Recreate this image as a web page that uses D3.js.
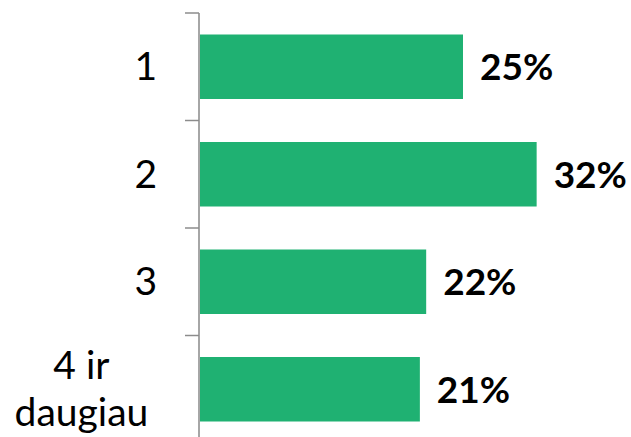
<!DOCTYPE html>
<html>
<head>
<meta charset="utf-8">
<script src="https://cdn.jsdelivr.net/npm/d3@7"></script>
<style>
  body { margin: 0; background: #fff; }
  svg { display: block; }
</style>
</head>
<body>
<svg id="chart"></svg>
<script>
// categories and values (percent)
var categories = ["1", "2", "3", "4 ir daugiau"];
var catLines = [["1"], ["2"], ["3"], ["4 ir", "daugiau"]];
var values = [25, 32, 21.5, 20.9];
var valueLabels = ["25%", "32%", "22%", "21%"];

var width = 631,
    height = 437;

var svg = d3.select("#chart")
  .attr("width", width)
  .attr("height", height);

// scales
var x = d3.scaleLinear()
  .domain([0, 35])
  .range([200, 200 + 35 * 10.52]);

var y = d3.scaleBand()
  .domain(categories)
  .range([13, 443])
  .paddingInner(0.4)
  .paddingOuter(0.2);

var gap = (y.step() - y.bandwidth()) / 2;

// bars
svg.selectAll(".bar")
  .data(values)
  .enter().append("rect")
  .attr("class", "bar")
  .attr("x", x(0))
  .attr("y", function(d, i) { return y(categories[i]); })
  .attr("width", function(d) { return x(d) - x(0); })
  .attr("height", y.bandwidth())
  .attr("fill", "#1fb172");

// axis line + ticks at band boundaries
svg.append("line")
  .attr("x1", x(0) - 1).attr("x2", x(0) - 1)
  .attr("y1", y.range()[0]).attr("y2", y.range()[1])
  .attr("stroke", "#a6a6a6")
  .attr("stroke-width", 2);

svg.selectAll(".tick")
  .data(categories)
  .enter().append("line")
  .attr("class", "tick")
  .attr("x1", x(0) - 15).attr("x2", x(0) - 1)
  .attr("y1", function(d) { return y(d) - gap; })
  .attr("y2", function(d) { return y(d) - gap; })
  .attr("stroke", "#8c8c8c")
  .attr("stroke-width", 1.5);

// category labels (block right aligned, lines centered)
var lineH = 47;
var cats = svg.selectAll(".cat")
  .data(categories)
  .enter().append("text")
  .attr("class", "cat")
  .attr("font-family", "Lato, 'Open Sans', sans-serif")
  .attr("font-size", 39)
  .attr("fill", "#000")
  .attr("text-anchor", "middle");

cats.each(function(d, i) {
  var t = d3.select(this);
  var lines = catLines[i];
  var cy = y(d) + y.bandwidth() / 2;
  lines.forEach(function(l, j) {
    t.append("tspan")
      .attr("y", cy + (j - (lines.length - 1) / 2) * lineH)
      .attr("dy", "0.35em")
      .text(l);
  });
  // right-align the block at x=157, center lines in the block
  var w = this.getBBox().width;
  t.selectAll("tspan").attr("x", 157 - w / 2);
});

// value labels
svg.selectAll(".val")
  .data(values)
  .enter().append("text")
  .attr("class", "val")
  .attr("x", function(d) { return x(d) + 17; })
  .attr("y", function(d, i) { return y(categories[i]) + y.bandwidth() / 2; })
  .attr("dy", "0.36em")
  .attr("font-family", "Lato, 'Open Sans', sans-serif")
  .attr("font-weight", "bold")
  .attr("font-size", 37)
  .attr("fill", "#000")
  .text(function(d, i) { return valueLabels[i]; });
</script>
</body>
</html>
